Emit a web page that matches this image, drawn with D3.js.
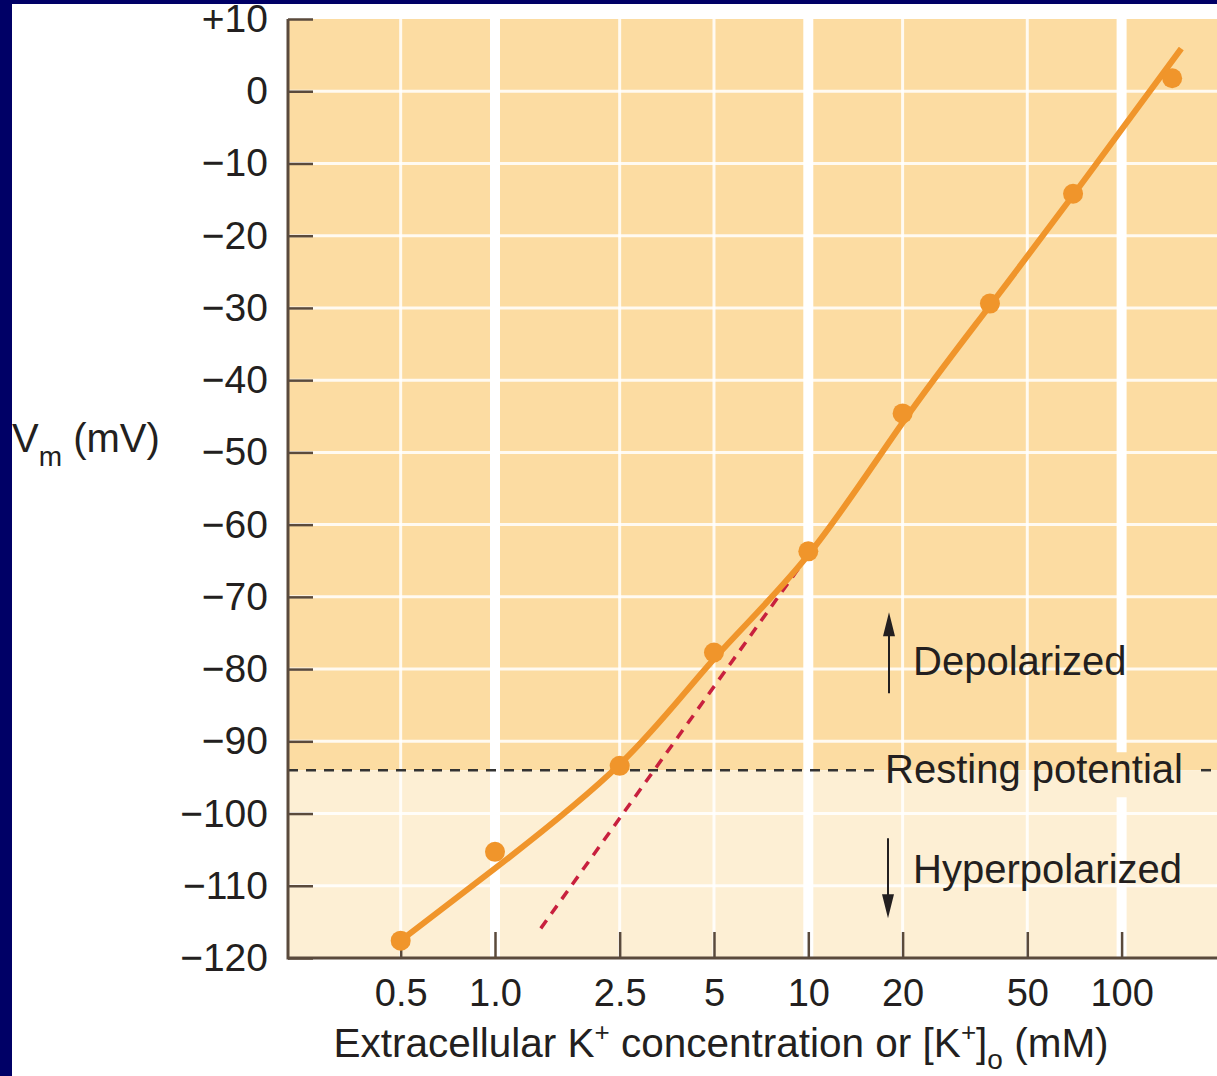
<!DOCTYPE html>
<html>
<head>
<meta charset="utf-8">
<script src="https://cdn.jsdelivr.net/npm/d3@7"></script>
<style>
  body { margin: 0; background: #fff; }
  svg { display: block; font-family: "Liberation Sans", Arial, Helvetica, sans-serif; }
</style>
</head>
<body>
<div id="chart"></div>
<script>
// x ticks ([K+]o, mM, log scale)
var concTicks = [0.5, 1, 2.5, 5, 10, 20, 50, 100];
var concLabels = ["0.5", "1.0", "2.5", "5", "10", "20", "50", "100"];
var majorConc = [1, 10, 100];

// y ticks (Vm, mV)
var vmTicks = [10, 0, -10, -20, -30, -40, -50, -60, -70, -80, -90, -100, -110, -120];
var vmLabels = ["+10", "0", "\u221210", "\u221220", "\u221230", "\u221240", "\u221250", "\u221260",
                "\u221270", "\u221280", "\u221290", "\u2212100", "\u2212110", "\u2212120"];

// measured points
var pointConc = [0.5, 1, 2.5, 5, 10, 20, 38, 70, 145];
var pointVm = [-117.6, -105.3, -93.4, -77.7, -63.7, -44.6, -29.4, -14.2, 1.8];

// fitted curve
var fitConc = [0.5, 1, 2.5, 5, 10, 20, 38, 70, 100, 155];
var fitVm = [-117.6, -107.6, -93.2, -78.6, -64.2, -45.9, -29.7, -14.4, -5.3, 5.9];

// Nernst slope (red dashed)
var nernstConc = [1.4, 9.7];
var nernstVm = [-115.9, -65];

var restingVm = -94;

var W = 1217, H = 1076;
var plotLeft = 288, plotTop = 19, plotBottom = 958, plotRight = W;

var svg = d3.select("#chart").append("svg")
    .attr("width", W)
    .attr("height", H);

// navy frame
svg.append("rect").attr("x", 0).attr("y", 0).attr("width", W).attr("height", 4).attr("fill", "#000066");
svg.append("rect").attr("x", 0).attr("y", 0).attr("width", 12).attr("height", H).attr("fill", "#000066");

var x = d3.scaleLog().domain([1, 100]).range([495, 1121.6]);
var y = d3.scaleLinear().domain([-120, 10]).range([plotBottom, plotTop]);

var axisColor = "#5a4a3c";
var textColor = "#231f20";

// background bands
svg.append("rect")
    .attr("x", plotLeft).attr("y", y(10))
    .attr("width", plotRight - plotLeft).attr("height", y(restingVm) - y(10))
    .attr("fill", "#fcdca2");
svg.append("rect")
    .attr("x", plotLeft).attr("y", y(restingVm))
    .attr("width", plotRight - plotLeft).attr("height", y(-120) - y(restingVm))
    .attr("fill", "#fdefd4");

// horizontal grid
svg.append("g").selectAll("line")
    .data(vmTicks.filter(function(d){ return d < 10 && d > -120; }))
    .enter().append("line")
    .attr("x1", plotLeft).attr("x2", plotRight)
    .attr("y1", function(d){ return y(d); })
    .attr("y2", function(d){ return y(d); })
    .attr("stroke", "#fff")
    .attr("stroke-opacity", 0.85)
    .attr("stroke-width", 3);

// vertical grid (thin and thick)
svg.append("g").selectAll("line")
    .data(concTicks.filter(function(d){ return majorConc.indexOf(d) < 0; }))
    .enter().append("line")
    .attr("x1", function(d){ return x(d); })
    .attr("x2", function(d){ return x(d); })
    .attr("y1", plotTop).attr("y2", plotBottom)
    .attr("stroke", "#fff")
    .attr("stroke-opacity", 0.85)
    .attr("stroke-width", 3);

var ry = y(restingVm);
var gap = [ry - 18, ry + 27];
majorConc.forEach(function(c){
    var segs = (c === 100) ? [[plotTop, gap[0]], [gap[1], plotBottom]] : [[plotTop, plotBottom]];
    segs.forEach(function(s){
        svg.append("line")
            .attr("x1", x(c)).attr("x2", x(c))
            .attr("y1", s[0]).attr("y2", s[1])
            .attr("stroke", "#fff")
            .attr("stroke-width", 10);
    });
});

// resting potential dashed line
svg.append("line")
    .attr("x1", plotLeft).attr("x2", 880)
    .attr("y1", ry).attr("y2", ry)
    .attr("stroke", "#333")
    .attr("stroke-width", 2.5)
    .attr("stroke-dasharray", "10,8");
svg.append("line")
    .attr("x1", 1201).attr("x2", 1211)
    .attr("y1", ry).attr("y2", ry)
    .attr("stroke", "#333")
    .attr("stroke-width", 2.5);

// axes
var yAxis = d3.axisLeft(y)
    .tickValues(vmTicks)
    .tickFormat(function(d, i){ return vmLabels[i]; })
    .tickSizeInner(-25).tickSizeOuter(0).tickPadding(20);

var gy = svg.append("g")
    .attr("transform", "translate(" + plotLeft + ",0)")
    .call(yAxis);
gy.select(".domain").remove();
gy.selectAll(".tick line").attr("stroke", axisColor).attr("stroke-width", 2.5);
gy.selectAll(".tick text")
    .attr("fill", textColor)
    .style("font-size", "39px")
    .style("font-family", "Liberation Sans, Arial, sans-serif");

var xAxis = d3.axisBottom(x)
    .tickValues(concTicks)
    .tickFormat(function(d, i){ return concLabels[i]; })
    .tickSizeInner(-26).tickSizeOuter(0).tickPadding(21);

var gx = svg.append("g")
    .attr("transform", "translate(0," + plotBottom + ")")
    .call(xAxis);
gx.select(".domain").remove();
gx.selectAll(".tick line").attr("stroke", axisColor).attr("stroke-width", 2.5);
gx.selectAll(".tick text")
    .attr("fill", textColor)
    .style("font-size", "38px")
    .style("font-family", "Liberation Sans, Arial, sans-serif");

svg.append("line")
    .attr("x1", plotLeft).attr("x2", plotLeft)
    .attr("y1", plotTop).attr("y2", plotBottom + 1.5)
    .attr("stroke", axisColor).attr("stroke-width", 3);
svg.append("line")
    .attr("x1", plotLeft).attr("x2", plotRight)
    .attr("y1", plotBottom).attr("y2", plotBottom)
    .attr("stroke", axisColor).attr("stroke-width", 3);

// Nernst line
svg.append("path")
    .datum(d3.zip(nernstConc, nernstVm))
    .attr("d", d3.line().x(function(d){ return x(d[0]); }).y(function(d){ return y(d[1]); }))
    .attr("fill", "none")
    .attr("stroke", "#c8203e")
    .attr("stroke-width", 3.5)
    .attr("stroke-dasharray", "10,8");

// fitted curve
var line = d3.line()
    .x(function(d){ return x(d[0]); })
    .y(function(d){ return y(d[1]); })
    .curve(d3.curveNatural);

svg.append("path")
    .datum(d3.zip(fitConc, fitVm))
    .attr("d", line)
    .attr("fill", "none")
    .attr("stroke", "#f0952b")
    .attr("stroke-width", 6);

// points
svg.selectAll(".pt")
    .data(d3.zip(pointConc, pointVm)).enter()
    .append("circle")
    .attr("class", "pt")
    .attr("cx", function(d){ return x(d[0]); })
    .attr("cy", function(d){ return y(d[1]); })
    .attr("r", 10)
    .attr("fill", "#f0952b");

// annotations
var ax = 889;
svg.append("line").attr("x1", ax).attr("x2", ax).attr("y1", ry - 77).attr("y2", ry - 138)
    .attr("stroke", textColor).attr("stroke-width", 2);
svg.append("path")
    .attr("d", "M" + (ax - 6) + "," + (ry - 134) + "L" + ax + "," + (ry - 158) + "L" + (ax + 6) + "," + (ry - 134) + "Z")
    .attr("fill", textColor);
svg.append("line").attr("x1", ax - 1).attr("x2", ax - 1).attr("y1", ry + 68).attr("y2", ry + 128)
    .attr("stroke", textColor).attr("stroke-width", 2);
svg.append("path")
    .attr("d", "M" + (ax - 7) + "," + (ry + 124) + "L" + (ax - 1) + "," + (ry + 148) + "L" + (ax + 5) + "," + (ry + 124) + "Z")
    .attr("fill", textColor);

svg.append("text").attr("x", 913).attr("y", ry - 95)
    .attr("fill", textColor).style("font-size", "40px").text("Depolarized");
svg.append("text").attr("x", 913).attr("y", ry + 113)
    .attr("fill", textColor).style("font-size", "40px").text("Hyperpolarized");
svg.append("text").attr("x", 885).attr("y", ry + 13)
    .attr("fill", textColor).style("font-size", "40px").text("Resting potential");

// y title
var yt = svg.append("text").attr("x", 12).attr("y", 452)
    .attr("fill", textColor).style("font-size", "40px");
yt.append("tspan").text("V");
yt.append("tspan").attr("dy", 14).style("font-size", "28px").text("m");
yt.append("tspan").attr("dy", -14).text(" (mV)");

// x title
var xt = svg.append("text").attr("x", 721).attr("y", 1057)
    .attr("text-anchor", "middle")
    .attr("fill", textColor).style("font-size", "40.5px");
xt.append("tspan").text("Extracellular K");
xt.append("tspan").attr("dy", -16).style("font-size", "26px").text("+");
xt.append("tspan").attr("dy", 16).text(" concentration or [K");
xt.append("tspan").attr("dy", -16).style("font-size", "26px").text("+");
xt.append("tspan").attr("dy", 16).text("]");
xt.append("tspan").attr("dy", 12).style("font-size", "28px").text("o");
xt.append("tspan").attr("dy", -12).text(" (mM)");
</script>
</body>
</html>
